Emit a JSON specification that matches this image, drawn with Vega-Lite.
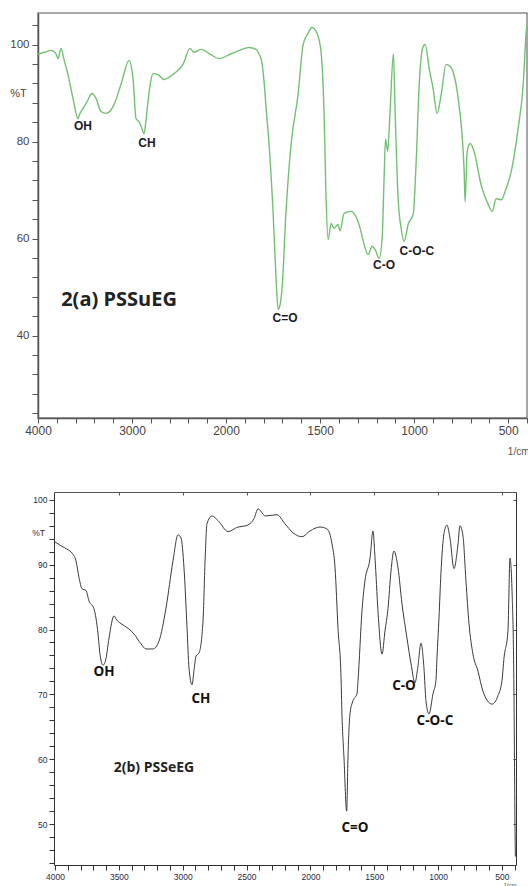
{
"$schema": "https://vega.github.io/schema/vega-lite/v6.json",
"autosize": {"type": "pad"},
"padding": {"left": 9, "top": 12, "right": 0, "bottom": 0},
"background": "white",
"bounds": "flush",
"spacing": 74,
"config": {"view": {"stroke": null}, "axis": {"grid": false, "labelFont": "Liberation Sans", "titleFont": "Liberation Sans"}},
"datasets": {
"a": [
{"wn":4000,"T":98.0},{"wn":3950,"T":98.3},{"wn":3900,"T":98.6},{"wn":3862,"T":98.8},{"wn":3809,"T":98.1},{"wn":3787,"T":97.1},{"wn":3755,"T":99.2},{"wn":3723,"T":96.9},{"wn":3681,"T":93.8},{"wn":3628,"T":88.9},{"wn":3574,"T":84.7},{"wn":3560,"T":85.5},{"wn":3521,"T":86.8},{"wn":3479,"T":88.2},{"wn":3426,"T":89.9},{"wn":3383,"T":88.9},{"wn":3330,"T":86.2},{"wn":3277,"T":85.8},{"wn":3191,"T":87.6},{"wn":3117,"T":91.8},{"wn":3032,"T":96.7},{"wn":2989,"T":93.0},{"wn":2957,"T":84.7},{"wn":2926,"T":84.1},{"wn":2900,"T":83.0},{"wn":2872,"T":81.6},{"wn":2850,"T":84.5},{"wn":2830,"T":88.2},{"wn":2800,"T":92.5},{"wn":2777,"T":94.0},{"wn":2723,"T":93.8},{"wn":2660,"T":92.8},{"wn":2553,"T":94.0},{"wn":2457,"T":95.9},{"wn":2383,"T":99.2},{"wn":2340,"T":98.4},{"wn":2266,"T":99.0},{"wn":2160,"T":97.9},{"wn":2074,"T":97.1},{"wn":1973,"T":98.1},{"wn":1920,"T":98.9},{"wn":1878,"T":99.4},{"wn":1840,"T":99.0},{"wn":1824,"T":98.0},{"wn":1810,"T":96.5},{"wn":1798,"T":92.5},{"wn":1785,"T":86.0},{"wn":1771,"T":79.4},{"wn":1750,"T":65.6},{"wn":1734,"T":51.8},{"wn":1723,"T":45.4},{"wn":1712,"T":46.5},{"wn":1702,"T":49.7},{"wn":1681,"T":65.6},{"wn":1654,"T":79.4},{"wn":1617,"T":89.7},{"wn":1590,"T":100.0},{"wn":1564,"T":102.3},{"wn":1543,"T":103.5},{"wn":1516,"T":102.3},{"wn":1495,"T":98.6},{"wn":1479,"T":86.2},{"wn":1468,"T":68.2},{"wn":1457,"T":59.8},{"wn":1441,"T":63.1},{"wn":1426,"T":62.1},{"wn":1404,"T":62.9},{"wn":1394,"T":61.6},{"wn":1372,"T":65.2},{"wn":1335,"T":65.6},{"wn":1309,"T":64.5},{"wn":1287,"T":62.1},{"wn":1266,"T":58.8},{"wn":1245,"T":56.7},{"wn":1223,"T":58.4},{"wn":1207,"T":57.7},{"wn":1186,"T":55.9},{"wn":1170,"T":60.0},{"wn":1160,"T":72.0},{"wn":1152,"T":80.5},{"wn":1140,"T":78.0},{"wn":1128,"T":86.2},{"wn":1110,"T":98.1},{"wn":1101,"T":86.2},{"wn":1085,"T":68.2},{"wn":1069,"T":62.1},{"wn":1053,"T":59.4},{"wn":1032,"T":62.9},{"wn":1005,"T":65.0},{"wn":989,"T":75.9},{"wn":973,"T":91.8},{"wn":952,"T":99.6},{"wn":941,"T":100.0},{"wn":920,"T":95.1},{"wn":899,"T":90.9},{"wn":878,"T":85.8},{"wn":856,"T":89.7},{"wn":830,"T":95.9},{"wn":809,"T":95.5},{"wn":793,"T":94.4},{"wn":766,"T":88.9},{"wn":734,"T":73.8},{"wn":729,"T":67.6},{"wn":718,"T":77.9},{"wn":702,"T":79.6},{"wn":681,"T":77.9},{"wn":644,"T":71.1},{"wn":606,"T":67.0},{"wn":585,"T":65.6},{"wn":564,"T":68.2},{"wn":537,"T":68.0},{"wn":511,"T":70.3},{"wn":484,"T":73.8},{"wn":447,"T":82.7},{"wn":420,"T":91.8},{"wn":404,"T":102.7},{"wn":400,"T":104.0}
],
"la": [
{"label":"OH","wn":3521,"T":83.1},{"label":"CH","wn":2840,"T":79.6},{"label":"C=O","wn":1686,"T":43.7},{"label":"C-O","wn":1160,"T":54.6},{"label":"C-O-C","wn":985,"T":57.5}
],
"b": [
{"wn":4000,"T":93.5},{"wn":3953,"T":92.9},{"wn":3898,"T":92.3},{"wn":3867,"T":91.8},{"wn":3836,"T":90.6},{"wn":3812,"T":88.0},{"wn":3789,"T":86.3},{"wn":3757,"T":86.0},{"wn":3734,"T":84.4},{"wn":3695,"T":83.2},{"wn":3663,"T":79.3},{"wn":3648,"T":76.2},{"wn":3624,"T":74.5},{"wn":3601,"T":75.5},{"wn":3577,"T":78.7},{"wn":3538,"T":82.1},{"wn":3522,"T":81.6},{"wn":3483,"T":80.9},{"wn":3428,"T":80.2},{"wn":3381,"T":79.3},{"wn":3327,"T":77.8},{"wn":3287,"T":77.0},{"wn":3233,"T":77.0},{"wn":3186,"T":78.2},{"wn":3131,"T":83.3},{"wn":3076,"T":90.6},{"wn":3037,"T":94.6},{"wn":3013,"T":94.1},{"wn":2990,"T":89.5},{"wn":2966,"T":80.2},{"wn":2951,"T":74.1},{"wn":2927,"T":71.5},{"wn":2910,"T":74.0},{"wn":2896,"T":75.9},{"wn":2872,"T":76.4},{"wn":2841,"T":81.3},{"wn":2825,"T":90.6},{"wn":2810,"T":96.3},{"wn":2771,"T":97.5},{"wn":2724,"T":96.8},{"wn":2645,"T":95.1},{"wn":2567,"T":95.8},{"wn":2504,"T":96.0},{"wn":2442,"T":97.1},{"wn":2410,"T":98.6},{"wn":2371,"T":97.8},{"wn":2356,"T":97.5},{"wn":2262,"T":97.7},{"wn":2199,"T":96.3},{"wn":2136,"T":94.9},{"wn":2066,"T":94.3},{"wn":2003,"T":95.2},{"wn":1925,"T":95.8},{"wn":1870,"T":95.5},{"wn":1831,"T":93.2},{"wn":1807,"T":89.5},{"wn":1784,"T":80.2},{"wn":1760,"T":72.5},{"wn":1753,"T":67.0},{"wn":1737,"T":60.2},{"wn":1716,"T":52.0},{"wn":1706,"T":60.2},{"wn":1690,"T":67.0},{"wn":1667,"T":69.0},{"wn":1635,"T":70.1},{"wn":1627,"T":72.1},{"wn":1596,"T":82.9},{"wn":1573,"T":87.5},{"wn":1533,"T":91.0},{"wn":1510,"T":95.2},{"wn":1494,"T":91.0},{"wn":1471,"T":82.9},{"wn":1439,"T":76.2},{"wn":1416,"T":79.8},{"wn":1392,"T":83.3},{"wn":1369,"T":89.0},{"wn":1346,"T":92.1},{"wn":1314,"T":89.5},{"wn":1283,"T":84.0},{"wn":1244,"T":78.7},{"wn":1212,"T":74.7},{"wn":1181,"T":71.8},{"wn":1160,"T":74.0},{"wn":1134,"T":77.9},{"wn":1111,"T":74.1},{"wn":1095,"T":69.0},{"wn":1071,"T":67.0},{"wn":1040,"T":70.1},{"wn":1017,"T":72.1},{"wn":1009,"T":75.6},{"wn":993,"T":81.8},{"wn":978,"T":88.6},{"wn":954,"T":94.8},{"wn":931,"T":96.1},{"wn":907,"T":94.1},{"wn":876,"T":89.4},{"wn":844,"T":93.2},{"wn":829,"T":96.0},{"wn":805,"T":94.4},{"wn":782,"T":87.5},{"wn":758,"T":80.9},{"wn":727,"T":76.2},{"wn":688,"T":73.6},{"wn":649,"T":70.5},{"wn":578,"T":68.5},{"wn":531,"T":69.8},{"wn":500,"T":72.1},{"wn":484,"T":75.6},{"wn":453,"T":79.8},{"wn":437,"T":91.0},{"wn":421,"T":85.9},{"wn":406,"T":70.5},{"wn":398,"T":50.0},{"wn":395,"T":45.0}
],
"lb": [
{"label":"OH","wn":3616,"T":73.5},{"label":"CH","wn":2857,"T":69.3},{"label":"C=O","wn":1651,"T":49.4},{"label":"C-O","wn":1267,"T":71.3},{"label":"C-O-C","wn":1025,"T":65.9}
]
},
"vconcat": [
{
"width": 489, "height": 405,
"view": {"stroke": "#8a8a8a", "strokeWidth": 1.5},
"encoding": {
"x": {"field": "wn", "type": "quantitative",
 "scale": {"domain": [4000, 2000, 400], "range": [0, 188, 489]},
 "axis": {"values": [4000,3800,3600,3400,3200,3000,2800,2600,2400,2200,2000,1900,1800,1700,1600,1500,1400,1300,1200,1100,1000,900,800,700,600,500,400],
  "format": "d", "labelExpr": "indexof([4000,3000,2000,1500,1000,500], datum.value) >= 0 ? datum.label : ''",
  "labelOverlap": false, "labelFlush": false, "tickSize": 5, "tickColor": "#555", "domainColor": "#555", "domainWidth": 1.5,
  "labelFontSize": 12, "labelColor": "#4a4242", "labelPadding": 2,
  "title": "1/cm", "titleX": 491, "titleY": 33, "titleAlign": "right", "titleBaseline": "middle", "titleFontSize": 10, "titleFontWeight": "normal", "titleColor": "#555"}},
"y": {"field": "T", "type": "quantitative",
 "scale": {"domain": [23, 106.5], "nice": false, "zero": false},
 "axis": {"values": [24,28,32,36,40,44,48,52,56,60,64,68,72,76,80,84,88,92,96,100,104],
  "labelExpr": "datum.value % 20 === 0 ? datum.label : ''",
  "labelOverlap": false, "labelFlush": false, "tickSize": 6, "tickColor": "#555", "domainColor": "#555", "domainWidth": 1.5,
  "labelFontSize": 11.5, "labelColor": "#4a4242", "labelPadding": 3,
  "title": "%T", "titleAngle": 0, "titleX": -20, "titleY": 80, "titleAlign": "center", "titleBaseline": "middle", "titleFontSize": 11, "titleFontWeight": "normal", "titleColor": "#4a4242"}}
},
"layer": [
{"data": {"name": "a"}, "mark": {"type": "line", "color": "#72c172", "strokeWidth": 1.4, "interpolate": "monotone"}},
{"data": {"name": "la"}, "mark": {"type": "text", "font": "Liberation Sans", "fontWeight": "bold", "fontSize": 12, "color": "#1b1b2a"}, "encoding": {"text": {"field": "label"}}},
{"data": {"values": [{"label": "2(a) PSSuEG", "wn": 3138, "T": 47.4}]}, "mark": {"type": "text", "font": "Open Sans", "fontWeight": "bold", "fontSize": 20, "color": "#222"}, "encoding": {"text": {"field": "label"}}}
]
},
{
"width": 478, "height": 373,
"resolve": {"axis": {"x": "independent", "y": "independent"}},
"encoding": {
"x": {"field": "wn", "type": "quantitative",
 "scale": {"domain": [4008, 390], "range": [16, 478]},
 "axis": {"values": [4000,3900,3800,3700,3600,3500,3400,3300,3200,3100,3000,2900,2800,2700,2600,2500,2400,2300,2200,2100,2000,1900,1800,1700,1600,1500,1400,1300,1200,1100,1000,900,800,700,600,500,400],
  "format": "d", "labelExpr": "datum.value % 500 === 0 ? datum.label : ''",
  "labelOverlap": false, "labelFlush": false, "tickSize": 5, "tickColor": "#333", "domainColor": "#333",
  "labelFontSize": 8.5, "labelColor": "#2b2b45", "labelPadding": 2,
  "title": "1/cm", "titleX": 478, "titleY": 19, "titleAlign": "right", "titleBaseline": "middle", "titleFontSize": 6, "titleFontWeight": "normal", "titleColor": "#444"}},
"y": {"field": "T", "type": "quantitative",
 "scale": {"domain": [43.7, 101.2], "nice": false, "zero": false},
 "axis": {"values": [44,46,48,50,52,54,56,58,60,62,64,66,68,70,72,74,76,78,80,82,84,86,88,90,92,94,96,98,100],
  "labelExpr": "datum.value % 10 === 0 ? datum.label : ''", "offset": -16,
  "labelOverlap": false, "labelFlush": false, "tickSize": 5, "tickColor": "#333", "domainColor": "#333",
  "labelFontSize": 8.5, "labelColor": "#2b2b45", "labelPadding": 2,
  "title": "%T", "titleAngle": 0, "titleX": -16, "titleY": 40, "titleAlign": "center", "titleBaseline": "middle", "titleFontSize": 8.5, "titleFontWeight": "normal", "titleColor": "#2b2b45"}}
},
"layer": [
{"data": {"name": "b"}, "mark": {"type": "line", "color": "#3a3a3a", "strokeWidth": 1, "interpolate": "monotone"}},
{"data": {"name": "lb"}, "mark": {"type": "text", "font": "Open Sans", "fontWeight": "bold", "fontSize": 13.5, "color": "#111"},
 "encoding": {"text": {"field": "label"},
  "x": {"field": "wn", "type": "quantitative", "scale": {"domain": [4008, 390], "range": [16, 478]},
   "axis": {"orient": "top", "values": [3500,3000,2500,2000,1500,1000,500], "labels": false, "title": null, "tickSize": -3, "tickColor": "#555", "domainColor": "#555"}},
  "y": {"field": "T", "type": "quantitative", "scale": {"domain": [43.7, 101.2], "nice": false, "zero": false},
   "axis": {"orient": "right", "values": [50,60,70,80,90,100], "labels": false, "title": null, "tickSize": -3, "tickColor": "#555", "domainColor": "#333"}}}},
{"data": {"values": [{"label": "2(b) PSSeEG", "wn": 3225, "T": 58.6}]}, "mark": {"type": "text", "font": "Open Sans", "fontWeight": "bold", "fontSize": 14, "color": "#222"},
 "encoding": {"text": {"field": "label"},
  "x": {"field": "wn", "type": "quantitative", "axis": null},
  "y": {"field": "T", "type": "quantitative", "axis": null}}}
]
}
]
}
